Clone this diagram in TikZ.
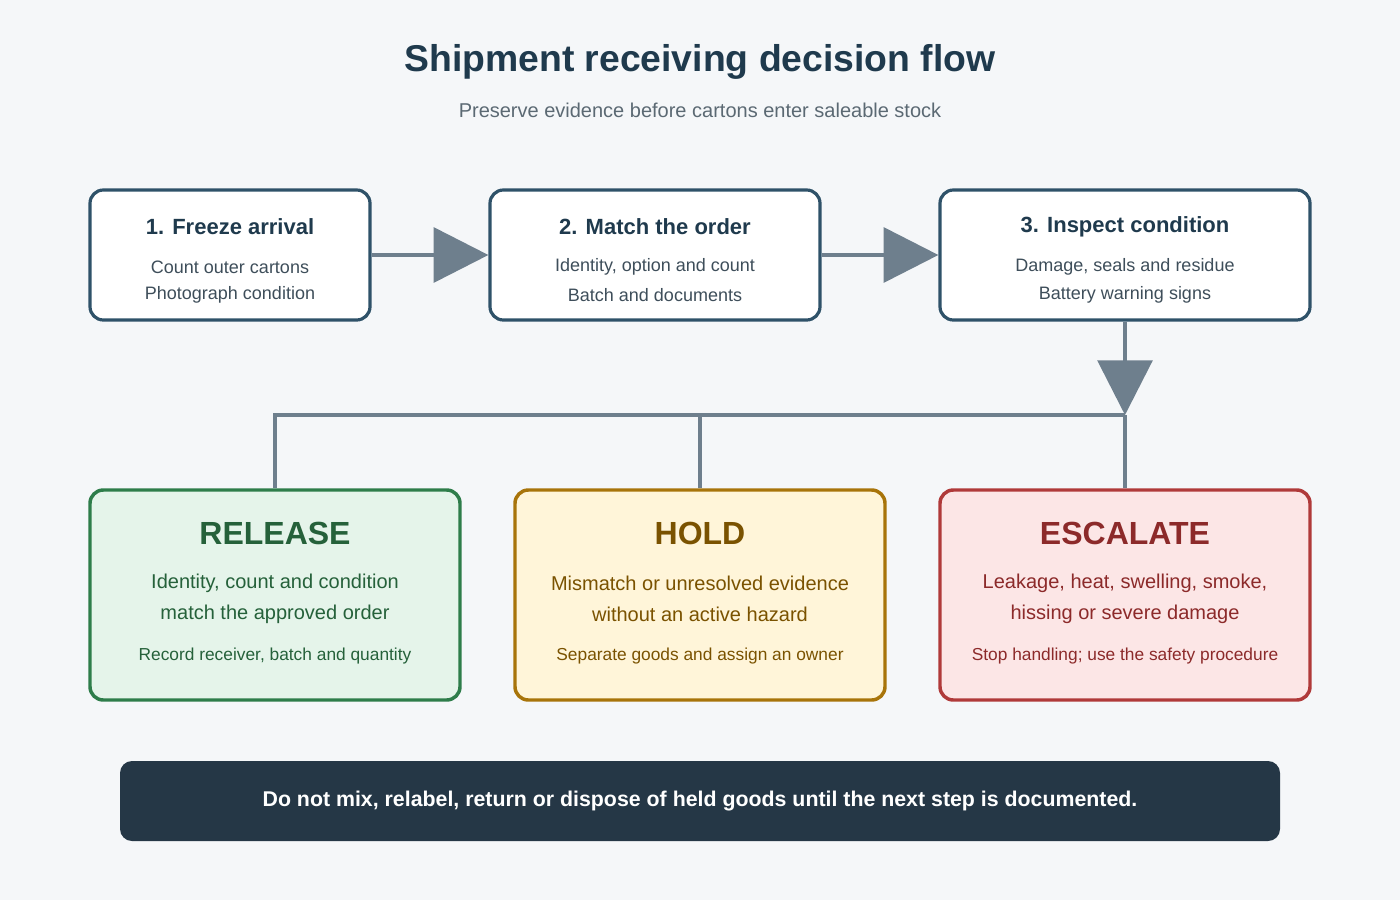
\documentclass[tikz,border=0pt]{standalone}
\usepackage{fontspec}
\setmainfont{Liberation Sans}
\usetikzlibrary{arrows.meta}
\definecolor{bg}{HTML}{F5F7F9}
\definecolor{stepc}{HTML}{2F5269}
\definecolor{steptx}{HTML}{1F3A4D}
\definecolor{bodytx}{HTML}{3E4E5A}
\definecolor{flow}{HTML}{6E7F8D}
\definecolor{relc}{HTML}{2E7D4A}\definecolor{relf}{HTML}{E5F4EA}\definecolor{relt}{HTML}{25613A}
\definecolor{holc}{HTML}{A8740A}\definecolor{holf}{HTML}{FFF5D9}\definecolor{holt}{HTML}{7A5200}
\definecolor{escc}{HTML}{B03A3A}\definecolor{escf}{HTML}{FCE6E6}\definecolor{esct}{HTML}{8C2A2A}
\definecolor{banner}{HTML}{253746}
\tikzset{
  stepbox/.style={draw=stepc,fill=white,line width=2.4pt,rounded corners=10pt,minimum height=97.5pt},
  out/.style n args={2}{draw=#1,fill=#2,line width=2.6pt,rounded corners=10pt,minimum width=277.5pt,minimum height=157.5pt},
  ttl/.style={font=\bfseries\fontsize{16.5}{20}\selectfont,text=steptx},
  txt/.style={font=\fontsize{13.5}{16}\selectfont,text=bodytx},
  big/.style={font=\bfseries\fontsize{24}{28}\selectfont},
  mid/.style={font=\fontsize{15}{18}\selectfont},
  sml/.style={font=\fontsize{13}{16}\selectfont},
  flw/.style={draw=flow,line width=3pt},
  tip/.style={-{Triangle[width=41pt,length=41pt]}}
}
\begin{document}
\begin{tikzpicture}[x=0.75pt,y=-0.75pt]
\fill[bg] (0,0) rectangle (1400,900);
\node[font=\bfseries\fontsize{28}{32}\selectfont,text=steptx] (title) at (700,62) {Shipment receiving decision flow};
\node[font=\fontsize{15}{18}\selectfont,text=bodytx!85] (sub) at (700,110) {Preserve evidence before cartons enter saleable stock};
% steps
\node[stepbox,minimum width=210pt] (s1) at (230,255) {};
\node[stepbox,minimum width=247.5pt] (s2) at (655,255) {};
\node[stepbox,minimum width=277.5pt] (s3) at (1125,255) {};
\foreach \n/\x/\t/\a/\b in {s1/230/1. Freeze arrival/Count outer cartons/Photograph condition,
  s2/655/2. Match the order/{Identity, option and count}/Batch and documents,
  s3/1125/3. Inspect condition/{Damage, seals and residue}/Battery warning signs} {
  \node[ttl] (\n t) at (\x,227) {\t};
  \node[txt] (\n a) at (\x,267) {\a};
  \node[txt] (\n b) at (\x,295) {\b};
}
\draw[flw,tip] (s1.east) -- (s2.west);
\draw[flw,tip] (s2.east) -- (s3.west);
% outcomes
\node[out={relc}{relf}] (rel) at (275,595) {};
\node[out={holc}{holf}] (hol) at (700,595) {};
\node[out={escc}{escf}] (esc) at (1125,595) {};
\coordinate (jn) at (1125,415);
\draw[flw,tip] (s3.south) -- (jn);
\draw[flw] (jn) -- (esc.north);
\draw[flw] (jn) -| (rel.north);
\draw[flw] (hol.north |- jn) -- (hol.north);
\foreach \n/\c/\t/\a/\b/\d in {rel/relt/RELEASE/{Identity, count and condition}/match the approved order/{Record receiver, batch and quantity},
  hol/holt/HOLD/Mismatch or unresolved evidence/without an active hazard/Separate goods and assign an owner,
  esc/esct/ESCALATE/{Leakage, heat, swelling, smoke,}/hissing or severe damage/{Stop handling; use the safety procedure}} {
  \node[big,text=\c] (\n t) at (\n.center |- 0,533) {\t};
  \node[mid,text=\c] (\n a) at (\n.center |- 0,583) {\a};
  \node[mid,text=\c] (\n b) at (\n.center |- 0,614) {\b};
  \node[sml,text=\c] (\n d) at (\n.center |- 0,656) {\d};
}
\node[fill=banner,rounded corners=9pt,minimum width=870pt,minimum height=60pt,text=white,
  font=\bfseries\fontsize{16}{19}\selectfont] (note) at (700,801) {Do not mix, relabel, return or dispose of held goods until the next step is documented.};
\end{tikzpicture}
\end{document}
